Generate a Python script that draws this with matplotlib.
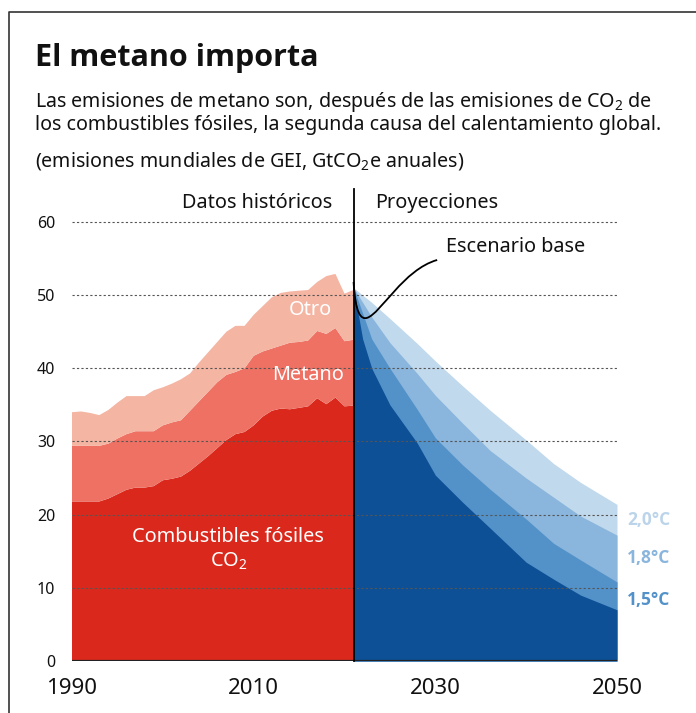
import matplotlib
matplotlib.use("Agg")
import matplotlib.pyplot as plt
from matplotlib.path import Path
from matplotlib.patches import PathPatch
from matplotlib.lines import Line2D

plt.rcParams['font.family'] = ['Noto Sans', 'DejaVu Sans']
plt.rcParams['mathtext.fontset'] = 'custom'
plt.rcParams['mathtext.rm'] = 'Noto Sans'
plt.rcParams['mathtext.default'] = 'regular'

BOLD_FAMILY = ['Open Sans', 'DejaVu Sans']

# ---------------- data ----------------
hist_years = list(range(1990, 2022))
co2 = [21.8, 21.8, 21.8, 21.8, 22.2, 22.8, 23.4, 23.7, 23.7, 23.9, 24.7, 24.9,
       25.2, 26.0, 27.0, 28.0, 29.1, 30.2, 31.0, 31.3, 32.2, 33.4, 34.2, 34.5,
       34.4, 34.6, 34.8, 35.9, 35.1, 36.0, 34.8, 34.9]
metano = [7.6, 7.6, 7.6, 7.6, 7.5, 7.6, 7.6, 7.7, 7.7, 7.5, 7.5, 7.7,
          7.7, 8.2, 8.5, 8.8, 9.0, 8.9, 8.5, 8.7, 9.5, 8.9, 8.5, 8.6,
          9.1, 9.0, 9.0, 9.2, 9.6, 9.5, 8.9, 9.0]
otro = [4.6, 4.7, 4.5, 4.2, 4.6, 4.9, 5.2, 4.8, 4.8, 5.6, 5.2, 5.3,
        5.6, 5.1, 5.3, 5.4, 5.5, 5.9, 6.3, 5.8, 5.6, 6.2, 7.0, 7.2,
        7.0, 7.0, 6.9, 6.7, 7.9, 7.4, 6.5, 6.8]

proj_years = [2021, 2022, 2023, 2025, 2028, 2030, 2033, 2036, 2040, 2043, 2046, 2050]
scen_20 = [51.0, 50.0, 49.0, 46.8, 43.4, 41.0, 37.6, 34.3, 30.2, 27.0, 24.4, 21.4]
scen_18 = [51.0, 49.0, 47.0, 43.5, 39.3, 36.3, 32.5, 28.8, 25.0, 22.4, 19.8, 17.2]
scen_15 = [51.0, 47.5, 44.0, 40.0, 34.4, 30.5, 26.8, 23.5, 19.4, 16.1, 13.8, 10.8]
scen_min = [51.0, 44.0, 40.0, 35.0, 29.8, 25.4, 21.7, 18.2, 13.5, 11.2, 9.0, 7.0]

y_ticks = [0, 10, 20, 30, 40, 50, 60]
x_ticks = [1990, 2010, 2030, 2050]
divider_year = 2021

red_colors = ['#da291c', '#ee7163', '#f5b5a3']
blue_colors = ['#c1d9ec', '#8ab5dc', '#5392c9', '#0d5096']
label_colors = ['#bcd4ea', '#8ab5dc', '#5392c9']
scenario_labels = ['2,0°C', '1,8°C', '1,5°C']

# ---------------- figure ----------------
W, H = 696, 713
fig = plt.figure(figsize=(W / 100, H / 100), dpi=100)
ax = fig.add_axes([72 / W, (H - 661) / H, 545 / W, 472 / H])

ax.stackplot(hist_years, co2, metano, otro, colors=red_colors, lw=0, zorder=2)

for vals, col in zip([scen_20, scen_18, scen_15, scen_min], blue_colors):
    ax.fill_between(proj_years, 0, vals, color=col, lw=0, zorder=2)

ax.set_xlim(1990, 2050)
ax.set_ylim(0, 64.5)
ax.set_yticks(y_ticks)
ax.set_xticks(x_ticks)
ax.set_xticklabels([str(x) for x in x_ticks])
for s in ax.spines.values():
    s.set_visible(False)
ax.tick_params(axis='y', length=0, pad=12, labelsize=11.5, colors='#111')
ax.tick_params(axis='x', length=0, pad=12, labelsize=16, colors='#111')
ax.yaxis.grid(True, linestyle=(0, (2, 2)), color='#555', lw=0.8, zorder=4)
ax.set_axisbelow(False)
ax.axhline(0, color='#222', lw=1.6, zorder=5)

ax.plot([divider_year, divider_year], [0, 64.5], color='black', lw=1.3,
        clip_on=False, zorder=6)

# callout curve for "Escenario base"
verts = [(2021.0, 51.8), (2021.2, 47.5), (2021.8, 46.6), (2022.5, 46.9),
         (2024.0, 47.5), (2026.5, 53.5), (2030.2, 54.8)]
codes = [Path.MOVETO] + [Path.CURVE4] * 6
ax.add_patch(PathPatch(Path(verts, codes), fc='none', ec='black', lw=1.3, zorder=7))

ax.text(2031.2, 55.9, 'Escenario base', fontsize=14.3, color='#111', va='baseline')
ax.text(2018.7, 61.9, 'Datos históricos', fontsize=14.3, color='#111', ha='right', va='baseline')
ax.text(2023.4, 61.9, 'Proyecciones', fontsize=14.3, color='#111', ha='left', va='baseline')

ax.text(2016.2, 48.0, 'Otro', fontsize=14.3, color='white', ha='center', va='center', zorder=8)
ax.text(2016.0, 39.1, 'Metano', fontsize=14.3, color='white', ha='center', va='center', zorder=8)
ax.text(2007.2, 15.2, 'Combustibles fósiles\nCO$_2$', fontsize=14.3, color='white',
        ha='center', va='center', linespacing=1.25, zorder=8)

for lab, yv, col in zip(scenario_labels, [19.3, 14.1, 8.3], label_colors):
    ax.text(2051.1, yv, lab, fontsize=12.5, fontweight='bold', color=col,
            family=BOLD_FAMILY, ha='left', va='center', clip_on=False)

# titles
fig.text(35 / W, 1 - 66 / H, 'El metano importa', fontsize=22, fontweight='bold',
         family=BOLD_FAMILY, color='#111', va='baseline')
fig.text(35 / W, 1 - 130 / H,
         'Las emisiones de metano son, después de las emisiones de CO$_2$ de\n'
         'los combustibles fósiles, la segunda causa del calentamiento global.',
         fontsize=14.15, color='#111', va='baseline', linespacing=1.05)
fig.text(35 / W, 1 - 166 / H, '(emisiones mundiales de GEI, GtCO$_2$e anuales)',
         fontsize=14.15, color='#111', va='baseline')

# frame
fig.add_artist(Line2D([9 / W, 9 / W, 1.0], [0.0, 1 - 12 / H, 1 - 12 / H],
                      transform=fig.transFigure, color='#333', lw=1.2))

fig.savefig('out.png', dpi=100)
